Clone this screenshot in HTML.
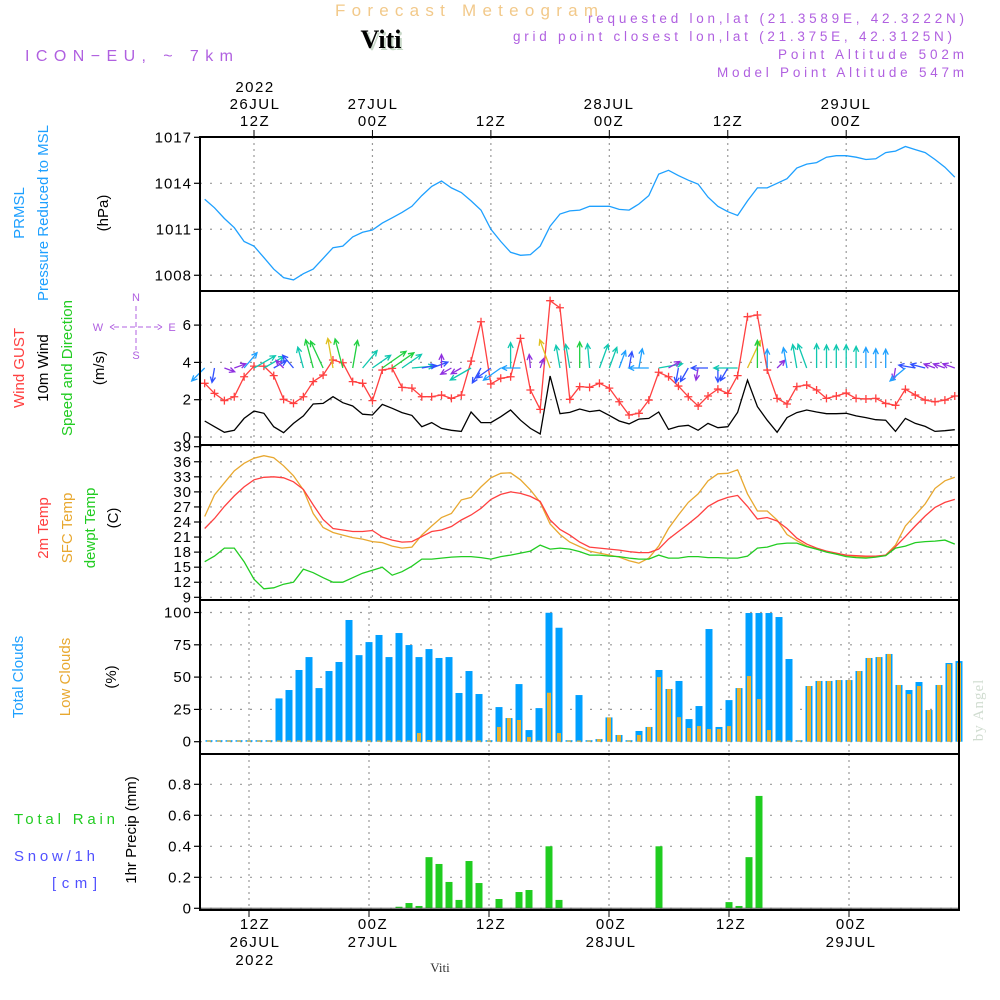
<!DOCTYPE html>
<html><head><meta charset="utf-8"><style>
html,body{margin:0;padding:0;background:#fff;}
svg{display:block;font-family:"Liberation Sans",sans-serif;}
.tk{font-size:15px;fill:#000;text-anchor:end;letter-spacing:1px}
.ax{font-size:15px;fill:#000;text-anchor:middle;letter-spacing:1.5px}
</style></head><body>
<svg id="chart" width="1000" height="1000" viewBox="0 0 1000 1000">
<text x="335" y="16" font-size="17" fill="#f2c98a" textLength="263" lengthAdjust="spacing">Forecast Meteogram</text>
<text x="383" y="50" font-size="26" font-weight="bold" font-family="Liberation Serif,serif" fill="#c8d8c8" text-anchor="middle">Viti</text>
<text x="381" y="48" font-size="26" font-weight="bold" font-family="Liberation Serif,serif" fill="#000" text-anchor="middle">Viti</text>
<text x="25" y="61" font-size="16" fill="#b060e0" textLength="208" lengthAdjust="spacing">ICON−EU, ~ 7km</text>
<g font-size="13.5" fill="#b060e0">
<text x="588" y="23" textLength="376" lengthAdjust="spacing">requested lon,lat (21.3589E, 42.3222N)</text>
<text x="513" y="41" textLength="439" lengthAdjust="spacing">grid point closest lon,lat (21.375E, 42.3125N)</text>
<text x="778" y="59" textLength="186" lengthAdjust="spacing">Point Altitude 502m</text>
<text x="717" y="77" textLength="247" lengthAdjust="spacing">Model Point Altitude 547m</text>
</g>
<g class="ax">
<text x="255" y="92">2022</text><text x="255" y="109">26JUL</text><text x="255" y="126">12Z</text>
<text x="373" y="109">27JUL</text><text x="373" y="126">00Z</text>
<text x="491" y="126">12Z</text>
<text x="609" y="109">28JUL</text><text x="609" y="126">00Z</text>
<text x="728" y="126">12Z</text>
<text x="846" y="109">29JUL</text><text x="846" y="126">00Z</text>
</g>
<g class="ax">
<text x="255" y="929">12Z</text><text x="255" y="947">26JUL</text><text x="255" y="965">2022</text>
<text x="373" y="929">00Z</text><text x="373" y="947">27JUL</text>
<text x="491" y="929">12Z</text>
<text x="611" y="929">00Z</text><text x="611" y="947">28JUL</text>
<text x="731" y="929">12Z</text>
<text x="851" y="929">00Z</text><text x="851" y="947">29JUL</text>
</g>
<text x="440" y="972" font-size="13" font-family="Liberation Serif,serif" fill="#333" text-anchor="middle">Viti</text>
<text transform="translate(983,710) rotate(-90)" font-size="15" font-family="Liberation Serif,serif" fill="#d0dcd0" text-anchor="middle" letter-spacing="1">by Angel</text>
<g font-size="15" text-anchor="middle">
<text transform="translate(24,213) rotate(-90)" fill="#1ea0ff">PRMSL</text>
<text transform="translate(48,213) rotate(-90)" fill="#1ea0ff">Pressure Reduced to MSL</text>
<text transform="translate(108,213) rotate(-90)" fill="#000">(hPa)</text>
<text transform="translate(24,368) rotate(-90)" fill="#ff4040">Wind GUST</text>
<text transform="translate(48,368) rotate(-90)" fill="#000">10m Wind</text>
<text transform="translate(72,368) rotate(-90)" fill="#22cc22">Speed and Direction</text>
<text transform="translate(104,368) rotate(-90)" fill="#000">(m/s)</text>
<text transform="translate(48,528) rotate(-90)" fill="#ff4040">2m Temp</text>
<text transform="translate(72,528) rotate(-90)" fill="#e8a830">SFC Temp</text>
<text transform="translate(95,528) rotate(-90)" fill="#22cc22">dewpt Temp</text>
<text transform="translate(118,518) rotate(-90)" fill="#000">(C)</text>
<text transform="translate(23,677) rotate(-90)" fill="#1ea0ff">Total Clouds</text>
<text transform="translate(70,677) rotate(-90)" fill="#e8a830">Low Clouds</text>
<text transform="translate(116,677) rotate(-90)" fill="#000">(%)</text>
<text transform="translate(136,830) rotate(-90)" fill="#000">1hr Precip (mm)</text>
</g>
<g font-size="15">
<text x="14" y="824" fill="#22cc22" textLength="101" lengthAdjust="spacing">Total   Rain</text>
<text x="14" y="861" fill="#5050ff" textLength="81" lengthAdjust="spacing">Snow/1h</text>
<text x="52" y="888" fill="#5050ff" textLength="45" lengthAdjust="spacing">[cm]</text>
</g>
<g fill="#b060e0" stroke="#b060e0" font-size="11" text-anchor="middle">
<text x="136" y="301" stroke="none">N</text><text x="136" y="359" stroke="none">S</text>
<text x="98" y="331" stroke="none">W</text><text x="172" y="331" stroke="none">E</text>
<path d="M136 306V350M114 327H158M110 327l5-3M110 327l5 3M162 327l-5-3M162 327l-5 3" fill="none" stroke-dasharray="5,3" stroke-width="1"/>
</g>
<g id="plots"></g>
</svg>
<script>
const hours=[];for(let t=7;t<=83;t++)hours.push(t);
const pressure=[1012.96,1012.4,1011.7,1011.1,1010.2,1009.9,1009.15,1008.4,1007.85,1007.7,1008.1,1008.4,1009.1,1009.8,1009.9,1010.5,1010.8,1010.95,1011.4,1011.75,1012.1,1012.5,1013.2,1013.8,1014.15,1013.7,1013.4,1012.85,1012.25,1011.0,1010.2,1009.5,1009.3,1009.35,1009.9,1011.2,1012.0,1012.2,1012.25,1012.5,1012.5,1012.5,1012.3,1012.25,1012.65,1013.2,1014.6,1014.85,1014.5,1014.2,1013.95,1013.1,1012.5,1012.15,1011.9,1012.85,1013.7,1013.7,1014.0,1014.3,1015.0,1015.25,1015.35,1015.7,1015.8,1015.8,1015.7,1015.55,1015.6,1016.0,1016.1,1016.4,1016.2,1016.0,1015.55,1015.05,1014.4];
const gust=[2.88,2.34,1.95,2.16,3.23,3.8,3.8,3.29,2.02,1.8,2.16,2.97,3.32,4.13,3.98,2.97,2.88,1.95,3.59,3.68,2.66,2.62,2.16,2.16,2.25,2.07,2.25,4.07,6.18,2.84,3.15,3.23,5.29,2.52,1.48,7.31,6.93,2.02,2.7,2.66,2.88,2.62,1.89,1.18,1.27,1.98,3.47,3.23,2.73,2.16,1.66,2.2,2.57,2.34,3.29,6.45,6.54,3.59,2.07,1.77,2.7,2.79,2.52,2.07,2.2,2.36,2.07,2.04,2.07,1.8,1.7,2.56,2.25,1.98,1.89,1.98,2.2];
const windSpeed=[0.86,0.55,0.25,0.36,1.0,1.39,1.27,0.55,0.23,0.73,1.13,1.77,1.8,2.16,1.84,1.66,1.22,1.18,1.75,1.54,1.31,1.16,0.55,0.77,0.46,0.36,0.3,1.34,0.77,0.77,1.09,1.45,0.9,0.46,0.16,3.27,1.25,1.32,1.5,1.36,1.43,1.16,0.86,0.7,0.96,1.0,1.34,0.41,0.57,0.63,0.36,0.73,0.5,0.55,1.32,3.05,1.63,0.9,0.25,1.04,1.31,1.45,1.34,1.25,1.25,1.27,1.13,1.04,0.93,0.9,0.3,1.0,0.73,0.57,0.3,0.34,0.39];
const windDir=[225,190,110,70,40,60,60,60,315,320,345,345,335,350,345,10,40,55,55,55,55,85,80,70,0,240,240,240,210,235,235,0,270,355,20,340,350,350,0,355,20,20,20,10,10,270,80,60,190,210,190,270,180,210,270,25,0,0,45,350,350,340,0,0,0,0,0,0,0,0,190,230,280,285,290,290,290];
const temp2m=[22.7,24.7,27.1,29.2,31.0,32.4,32.9,33.0,32.8,32.0,30.5,27.4,24.5,22.7,22.4,22.1,22.1,22.3,21.0,20.4,20.0,20.1,21.1,22.1,22.4,23.1,24.4,25.4,26.7,28.5,29.5,30.0,29.7,29.1,28.1,24.4,22.5,21.4,20.0,19.0,18.8,18.6,18.4,18.1,17.9,17.9,18.6,20.6,22.1,23.6,25.2,27.1,28.2,28.9,29.3,27.1,24.6,24.9,24.2,22.7,20.8,19.6,18.8,18.2,17.8,17.4,17.3,17.2,17.2,17.4,19.1,21.1,23.2,25.2,26.9,27.9,28.5];
const tempSfc=[25.1,29.4,31.8,34.2,35.7,36.7,37.2,36.8,35.2,33.2,30.4,25.7,22.9,21.9,21.4,20.9,20.6,20.1,19.9,19.2,18.8,19.0,21.4,23.2,24.9,25.7,28.4,28.9,31.0,32.8,33.7,33.8,32.4,30.4,27.9,23.6,21.5,20.0,19.1,18.2,17.8,17.4,17.0,16.3,15.8,16.8,19.2,22.7,25.4,27.9,29.6,32.2,33.6,33.7,34.4,29.6,26.2,26.2,24.4,21.5,20.3,19.2,18.6,18.1,17.6,17.3,17.1,17.0,17.1,17.4,19.4,23.2,25.4,27.6,30.7,32.2,32.9];
const dewpoint=[16.1,17.2,18.8,18.8,16.1,12.6,10.7,10.9,11.6,12.0,14.6,13.9,12.9,12.0,12.0,12.9,13.8,14.4,15.0,13.4,14.1,15.2,16.6,16.6,16.8,17.0,17.1,17.1,16.9,16.6,17.1,17.4,17.8,18.2,19.4,18.6,18.8,18.6,18.1,17.4,17.4,17.2,17.1,16.8,16.6,16.6,17.4,16.8,16.8,17.1,17.1,16.9,16.9,16.8,16.8,17.2,18.8,19.0,19.6,19.8,19.8,19.1,18.6,18.0,17.6,17.1,16.9,16.8,17.0,17.3,18.8,19.2,19.9,20.1,20.2,20.4,19.6];
const totalClouds=[0,0,0,0,0,0,0,0,33.5,40,55.5,65.5,41.5,54.7,61.7,94.2,67,77.1,82.6,65.5,84.1,74.8,65.5,71.7,64.8,65.5,37.7,54.7,36.9,0,26.8,18.3,44.6,9,26,99.8,88.2,0,36.1,0,2,18.8,5.2,0,8.3,11.4,55.5,40.8,47,17.5,27.6,87.2,11.4,32.2,41.5,99.6,99.6,99.6,96.5,64,0,43.1,47,47,47.7,47.7,54.7,64.8,65.5,67.9,43.9,40,46.2,24.5,43.9,60.9,62.4];
const lowClouds=[0,0,0,0,0,0,0,0,0,0,0,0,0,0,0,0,0,0,0,0,0,0,6.7,1.3,0,0,0,0,0,0,11.4,18.3,16.8,3.6,0,37.9,6.7,0,0,0,2,18.8,5.2,0,5.2,11.4,50,40.8,19,10.6,12.1,9.8,9.8,12.1,41.5,50.8,33,9,0,0,0,43.1,47,47,47.7,47.7,54.7,64.8,65.5,67.9,43.9,36.9,43.1,24.5,43.9,60,61];
const precip=[0,0,0,0,0,0,0,0,0,0,0,0,0,0,0,0,0,0,0,0,0.01,0.034,0.015,0.33,0.286,0.17,0.054,0.305,0.163,0,0.06,0,0.105,0.118,0,0.40,0.054,0,0,0,0,0,0,0,0,0,0.40,0,0,0,0,0,0,0.04,0.015,0.33,0.725,0,0,0,0,0,0,0,0,0,0,0,0,0,0,0,0,0,0,0,0];
const pTicks=[1008,1011,1014,1017], wTicks=[0,2,4,6], tTicks=[9,12,15,18,21,24,27,30,33,36,39], cTicks=[0,25,50,75,100], rTicks=[0,0.2,0.4,0.6,0.8];
const rLabels=["0","0.2","0.4","0.6","0.8"];

const xL=t=>254+(t-12)*9.87, xB=t=>249+(t-12)*10;
const yP=p=>137.3+(1017-p)*15.33, yW=v=>437-v*18.65, yT=T=>597.3-(T-9)*5.02, yC=c=>741.7-c*1.292, yR=r=>908.3-r*155;
const NS="http://www.w3.org/2000/svg", G=document.getElementById('plots');
function mk(tag,at,parent){const e=document.createElementNS(NS,tag);for(const k in at)e.setAttribute(k,at[k]);(parent||G).appendChild(e);return e;}

const panels=[[137,291,xL],[291,445,xL],[445,600,xL],[600,754,xB],[754,910,xB]];
const gridT=[12,24,36,48,60,72];
panels.forEach(pn=>{gridT.forEach(t=>{const l=mk('line',{x1:pn[2](t),x2:pn[2](t),y1:pn[0],y2:pn[1],stroke:'#999','stroke-dasharray':'2,4','stroke-width':1.2});

});});
function hgrid(ticks,yf,labels,name,fs){ticks.forEach((v,i)=>{const y=yf(v);
const l=mk('line',{x1:200,x2:959,y1:y,y2:y,stroke:'#999','stroke-dasharray':'2,8','stroke-width':1.2});


mk('line',{x1:194,x2:200,y1:y,y2:y,stroke:'#000','stroke-width':1.2});
const tx=mk('text',{x:192,y:y+5,class:'tk','font-size':fs||15});tx.textContent=labels?labels[i]:v;

});}
hgrid(pTicks,yP,null,'pressure');hgrid(wTicks,yW,null,'wind');hgrid(tTicks,yT,null,'temp',14);hgrid(cTicks,yC,null,'cloud');hgrid(rTicks,yR,rLabels,'precip');
gridT.forEach(t=>{mk('line',{x1:xL(t),x2:xL(t),y1:130,y2:137,stroke:'#000'});mk('line',{x1:xB(t),x2:xB(t),y1:910,y2:917,stroke:'#000'});});

function line(vals,xf,yf,color,name,w){const d=vals.map((v,i)=>(i?'L':'M')+xf(hours[i]).toFixed(1)+' '+yf(v).toFixed(1)).join('');
const p=mk('path',{d:d,fill:'none',stroke:color,'stroke-width':w||1.3});

return p;}
line(pressure,xL,yP,'#1ea0ff','pressure-line');
line(windSpeed,xL,yW,'#000','wind-speed-line');
line(gust,xL,yW,'#ff4040','wind-gust-line');
gust.forEach((v,i)=>{const x=xL(hours[i]),y=yW(v);const m=mk('path',{d:`M${x-4} ${y}H${x+4}M${x} ${y-4}V${y+4}`,stroke:'#ff4040','stroke-width':1.3});

});
function wcol(s){return s<0.5?'#9030e0':s<0.8?'#3050ff':s<1.1?'#1ea0ff':s<1.5?'#10c8b0':s<2.0?'#20d040':'#e0c020';}
windDir.forEach((d,i)=>{const s=windSpeed[i];const len=Math.min(30,8+s*12);const a=d*Math.PI/180;
const x0=xL(hours[i]),y0=yW(3.7);const x1=x0+Math.sin(a)*len,y1=y0-Math.cos(a)*len;
const h1=a+Math.PI-0.45,h2=a+Math.PI+0.45;const c=wcol(s);
const p=mk('path',{d:`M${x0.toFixed(1)} ${y0.toFixed(1)}L${x1.toFixed(1)} ${y1.toFixed(1)}M${(x1+Math.sin(h1)*6).toFixed(1)} ${(y1-Math.cos(h1)*6).toFixed(1)}L${x1.toFixed(1)} ${y1.toFixed(1)}L${(x1+Math.sin(h2)*6).toFixed(1)} ${(y1-Math.cos(h2)*6).toFixed(1)}`,stroke:c,fill:'none','stroke-width':1.3});

});
line(tempSfc,xL,yT,'#e8a830','sfc-temp-line');
line(temp2m,xL,yT,'#ff4040','temp-2m-line');
line(dewpoint,xL,yT,'#22cc22','dewpoint-line');
totalClouds.forEach((v,i)=>{const x=xB(hours[i]);if(x<201)return;const h=Math.max(1.5,v*1.292);
const r=mk('rect',{x:x-3.5,y:yC(0)-h,width:7,height:h,fill:'#00a0ff'});

});
lowClouds.forEach((v,i)=>{const x=xB(hours[i]);if(x<201)return;const h=Math.max(1.2,v*1.292);
const r=mk('rect',{x:x-2,y:yC(0)-h,width:4,height:h,fill:'#e8b030'});

});
precip.forEach((v,i)=>{if(v<=0)return;const x=xB(hours[i]);const h=v*155;
const r=mk('rect',{x:x-3.5,y:yR(0)-h,width:7,height:h,fill:'#20cc20'});

});
mk('line',{x1:200,x2:959,y1:yR(0),y2:yR(0),stroke:'#555','stroke-width':1});
panels.forEach((pn,i)=>{const r=mk('rect',{x:200,y:pn[0],width:759,height:pn[1]-pn[0],fill:'none',stroke:'#000','stroke-width':2});

});
</script>
</body></html>
